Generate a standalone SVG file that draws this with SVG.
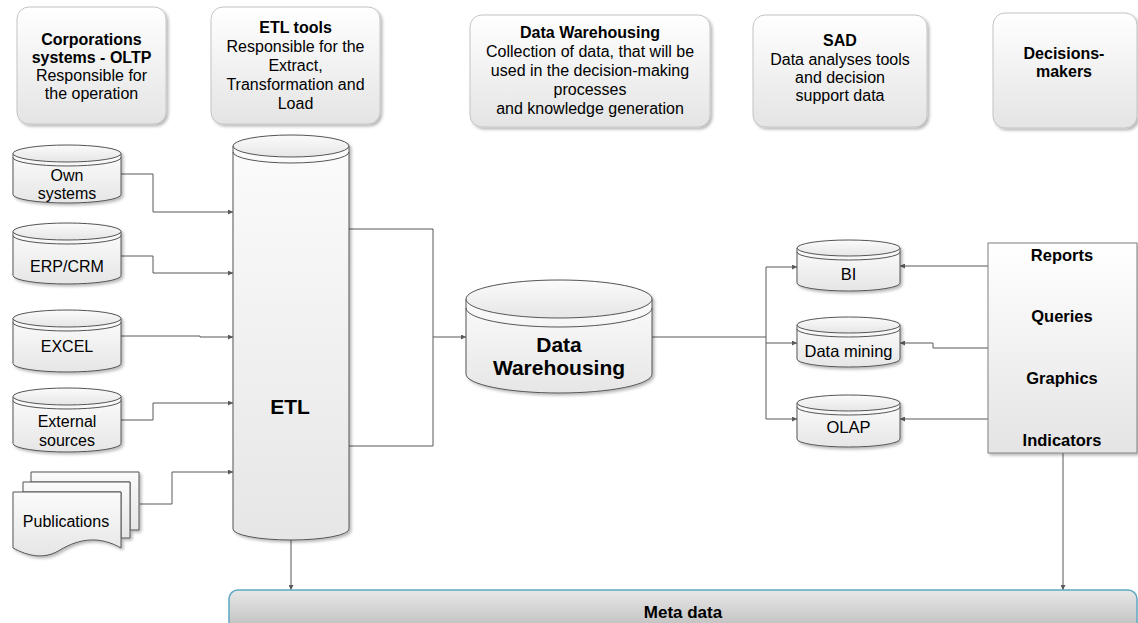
<svg xmlns="http://www.w3.org/2000/svg" width="1138" height="623" viewBox="0 0 1138 623">
  <defs>
    <linearGradient id="boxFill" x1="0" y1="0" x2="0" y2="1">
      <stop offset="0" stop-color="#ffffff"/>
      <stop offset="1" stop-color="#e4e4e4"/>
    </linearGradient>
    <linearGradient id="cylFill" x1="0" y1="0" x2="0" y2="1">
      <stop offset="0" stop-color="#fbfbfb"/>
      <stop offset="1" stop-color="#e6e6e6"/>
    </linearGradient>
    <linearGradient id="metaFill" x1="0" y1="0" x2="0" y2="1">
      <stop offset="0" stop-color="#e8e8e8"/>
      <stop offset="1" stop-color="#b8b8b8"/>
    </linearGradient>
    <filter id="shadow" x="-10%" y="-10%" width="125%" height="125%">
      <feDropShadow dx="2" dy="2" stdDeviation="1.5" flood-color="#000" flood-opacity="0.28"/>
    </filter>
    <marker id="arrow" viewBox="0 0 6 6" refX="6" refY="3" markerWidth="5" markerHeight="5" orient="auto" markerUnits="userSpaceOnUse">
      <path d="M0,0 L6,3 L0,6 z" fill="#595959"/>
    </marker>
    <clipPath id="dwClip">
      <rect x="470" y="15" width="240" height="103"/>
    </clipPath>
    <style>
      .tbox { fill: url(#boxFill); stroke: #c4c4c4; stroke-width: 1; filter: url(#shadow); }
      .cyl { fill: url(#cylFill); stroke: #555555; stroke-width: 1; }
      .band { fill: none; stroke: #555555; stroke-width: 1; }
      .cylg { filter: url(#shadow); }
      .txt { font-family: "Liberation Sans", Arial, sans-serif; font-size: 16px; fill: #000; text-anchor: middle; }
      .b { font-weight: bold; }
      .big { font-size: 21px; font-weight: bold; }
      .mid { font-size: 16.5px; }
      .conn path { fill: none; stroke: #595959; stroke-width: 1; }
      .arr { marker-end: url(#arrow); }
    </style>
  </defs>
  <rect width="1138" height="623" fill="#ffffff"/>

  <!-- header boxes -->
  <g id="hdr-oltp">
    <rect class="tbox" x="17" y="7" width="149" height="117" rx="12"/>
    <text class="txt b" x="91.5" y="45">Corporations</text>
    <text class="txt b" x="91.5" y="63">systems - OLTP</text>
    <text class="txt" x="91.5" y="81">Responsible for</text>
    <text class="txt" x="91.5" y="99">the operation</text>
  </g>
  <g id="hdr-etl">
    <rect class="tbox" x="211" y="7" width="169" height="117" rx="12"/>
    <text class="txt b" x="295.5" y="33">ETL tools</text>
    <text class="txt" x="295.5" y="52">Responsible for the</text>
    <text class="txt" x="295.5" y="71">Extract,</text>
    <text class="txt" x="295.5" y="90">Transformation and</text>
    <text class="txt" x="295.5" y="109">Load</text>
  </g>
  <g id="hdr-dw">
    <rect class="tbox" x="470" y="15" width="240" height="112" rx="12"/>
    <g clip-path="url(#dwClip)">
      <text class="txt b" x="590" y="38">Data Warehousing</text>
      <text class="txt" x="590" y="57">Collection of data, that will be</text>
      <text class="txt" x="590" y="76">used in the decision-making</text>
      <text class="txt" x="590" y="95">processes</text>
      <text class="txt" x="590" y="114">and knowledge generation</text>
    </g>
  </g>
  <g id="hdr-sad">
    <rect class="tbox" x="753" y="15" width="174" height="112" rx="12"/>
    <text class="txt b" x="840" y="46">SAD</text>
    <text class="txt" x="840" y="65">Data analyses tools</text>
    <text class="txt" x="840" y="83">and decision</text>
    <text class="txt" x="840" y="101">support data</text>
  </g>
  <g id="hdr-decision">
    <rect class="tbox" x="993" y="13" width="144" height="115" rx="12"/>
    <text class="txt b" x="1064" y="59">Decisions-</text>
    <text class="txt b" x="1064" y="77">makers</text>
  </g>

  <!-- connectors -->
  <g id="connectors" class="conn">
    <path class="arr" d="M121,174 H153 V212 H233"/>
    <path class="arr" d="M121,256 H153 V273 H233"/>
    <path class="arr" d="M121,336 H200 V337 H233"/>
    <path class="arr" d="M121,420 H153 V403 H233"/>
    <path class="arr" d="M140,504 H172 V472 H233"/>
    <path d="M349,229 H433 V446 H349"/>
    <path class="arr" d="M433,337 H466"/>
    <path d="M652,337 H766"/>
    <path d="M766,267 V419"/>
    <path class="arr" d="M766,267 H797"/>
    <path class="arr" d="M766,343 H797"/>
    <path class="arr" d="M766,419 H797"/>
    <path class="arr" d="M988,266 H900"/>
    <path class="arr" d="M988,348 H933 V343 H900"/>
    <path class="arr" d="M988,419 H900"/>
    <path class="arr" d="M291,540 V590"/>
    <path class="arr" d="M1063,453 V590"/>
  </g>

  <!-- source databases -->
  <g id="src-own">
    <g class="cylg">
      <path class="cyl" d="M13,153.5 V194.5 A54,8.5 0 0 0 121,194.5 V153.5"/>
      <ellipse class="cyl" cx="67" cy="153.5" rx="54" ry="8.5"/>
      <path class="band" d="M13,157.5 A54,8.5 0 0 0 121,157.5"/>
    </g>
    <text class="txt" x="67" y="181">Own</text>
    <text class="txt" x="67" y="199">systems</text>
  </g>

  <g id="src-erp">
    <g class="cylg">
      <path class="cyl" d="M13,231.5 V275.5 A54,8.5 0 0 0 121,275.5 V231.5"/>
      <ellipse class="cyl" cx="67" cy="231.5" rx="54" ry="8.5"/>
      <path class="band" d="M13,235.5 A54,8.5 0 0 0 121,235.5"/>
    </g>
    <text class="txt" x="67" y="272">ERP/CRM</text>
  </g>

  <g id="src-excel">
    <g class="cylg">
      <path class="cyl" d="M13,318.5 V363.5 A54,8.5 0 0 0 121,363.5 V318.5"/>
      <ellipse class="cyl" cx="67" cy="318.5" rx="54" ry="8.5"/>
      <path class="band" d="M13,322.5 A54,8.5 0 0 0 121,322.5"/>
    </g>
    <text class="txt" x="67" y="352">EXCEL</text>
  </g>

  <g id="src-external">
    <g class="cylg">
      <path class="cyl" d="M13,396.5 V443.5 A54,8.5 0 0 0 121,443.5 V396.5"/>
      <ellipse class="cyl" cx="67" cy="396.5" rx="54" ry="8.5"/>
      <path class="band" d="M13,400.5 A54,8.5 0 0 0 121,400.5"/>
    </g>
    <text class="txt" x="67" y="427">External</text>
    <text class="txt" x="67" y="446">sources</text>
  </g>

  <!-- publications: stacked documents -->
  <g id="src-publications">
    <g class="cylg">
      <path class="cyl" d="M31,472 H139 V530 H130 V482 H31 Z"/>
      <path class="cyl" d="M23,482 H130 V538 H121 V492 H23 Z"/>
      <path class="cyl" d="M13,492 H121 V548 C100,536 80,538 60,550 C44,560 28,556 13,548 Z"/>
    </g>
    <text class="txt" x="66" y="527">Publications</text>
  </g>

  <!-- ETL cylinder -->
  <g id="etl">
    <g class="cylg">
      <path class="cyl" d="M233,146 V529 A58,11 0 0 0 349,529 V146"/>
      <ellipse class="cyl" cx="291" cy="146" rx="58" ry="11"/>
      <path class="band" d="M233,152 A58,11 0 0 0 349,152"/>
    </g>
    <text class="txt big" x="290" y="414">ETL</text>
  </g>

  <!-- Data warehouse cylinder -->
  <g id="dw">
    <g class="cylg">
      <path class="cyl" d="M466,299 V374 A93,19 0 0 0 652,374 V299"/>
      <ellipse class="cyl" cx="559" cy="299" rx="93" ry="19"/>
      <path class="band" d="M466,308 A93,19 0 0 0 652,308"/>
    </g>
    <text class="txt big" x="559" y="352">Data</text>
    <text class="txt big" x="559" y="375">Warehousing</text>
  </g>

  <!-- analysis tools -->
  <g id="tool-bi">
    <g class="cylg">
      <path class="cyl" d="M797,248 V283 A51.5,8 0 0 0 900,283 V248"/>
      <ellipse class="cyl" cx="848.5" cy="248" rx="51.5" ry="8"/>
      <path class="band" d="M797,252 A51.5,8 0 0 0 900,252"/>
    </g>
    <text class="txt mid" x="848.5" y="280">BI</text>
  </g>
  <g id="tool-mining">
    <g class="cylg">
      <path class="cyl" d="M797,325 V359 A51.5,8 0 0 0 900,359 V325"/>
      <ellipse class="cyl" cx="848.5" cy="325" rx="51.5" ry="8"/>
      <path class="band" d="M797,329 A51.5,8 0 0 0 900,329"/>
    </g>
    <text class="txt mid" x="848.5" y="357">Data mining</text>
  </g>
  <g id="tool-olap">
    <g class="cylg">
      <path class="cyl" d="M797,403 V439 A51.5,8 0 0 0 900,439 V403"/>
      <ellipse class="cyl" cx="848.5" cy="403" rx="51.5" ry="8"/>
      <path class="band" d="M797,407 A51.5,8 0 0 0 900,407"/>
    </g>
    <text class="txt mid" x="848.5" y="433">OLAP</text>
  </g>

  <!-- outputs panel -->
  <g id="outputs">
    <rect x="988" y="243" width="149" height="210" fill="url(#boxFill)" stroke="#808080" stroke-width="1" filter="url(#shadow)"/>
    <text class="txt b mid" x="1062" y="261">Reports</text>
    <text class="txt b mid" x="1062" y="322">Queries</text>
    <text class="txt b mid" x="1062" y="384">Graphics</text>
    <text class="txt b mid" x="1062" y="446">Indicators</text>
  </g>

  <!-- metadata bar -->
  <g id="metadata">
    <rect x="229" y="590" width="908" height="45" rx="9" fill="url(#metaFill)" stroke="#5ea8c4" stroke-width="1.5"/>
    <text class="txt b" x="683" y="618" style="font-size:17px">Meta data</text>
  </g>
</svg>
